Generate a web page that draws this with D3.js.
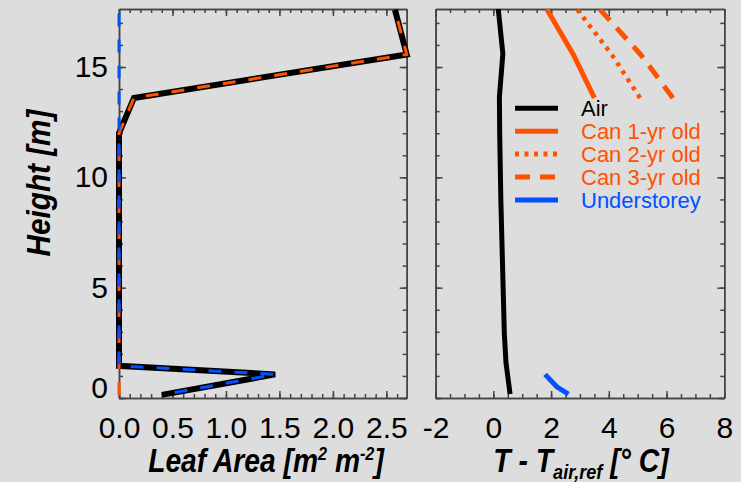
<!DOCTYPE html>
<meta charset="utf-8">
<head>
  <title>Leaf area and temperature profiles</title>
  <script src="https://cdn.jsdelivr.net/npm/d3@7"></script>
  <style>
    body {
      margin: 0;
      background: #dddddd;
    }
    svg {
      display: block;
    }
    .axis path, .axis line {
      stroke: #444;
      stroke-width: 1.5;
    }
    .axis text {
      font-family: "Liberation Sans", Arial, sans-serif;
      font-size: 30px;
      fill: #000;
    }
    .title {
      font-family: "Liberation Sans", Arial, sans-serif;
      font-weight: bold;
      font-style: italic;
      font-size: 33px;
      fill: #000;
    }
    .legend text {
      font-family: "Liberation Sans", Arial, sans-serif;
      font-size: 22px;
    }
  </style>
</head>

<body>
  <script>
    // Leaf area profile (left panel)
    var laHeight = [0.14, 1.07, 1.46, 12.0, 13.6, 15.57, 17.6];
    var laTotal  = [0.40, 1.46, 0, 0, 0.14, 2.69, 2.58];
    var laCanopy = [0, 0, 0, 0, 0.14, 2.69, 2.58];
    var laUnder  = [0.40, 1.46, 0, 0, 0, 0, 0];

    // Temperature difference profiles (right panel)
    var airHeight = [0.18, 1.57, 2.93, 5.95, 8.97, 12.0, 13.65, 15.6, 17.63];
    var airT      = [0.58, 0.44, 0.38, 0.32, 0.26, 0.22, 0.21, 0.33, 0.17];
    var canHeight = [13.6, 15.57, 17.63];
    var can1T     = [3.50, 2.77, 1.85];
    var can2T     = [5.08, 4.10, 2.89];
    var can3T     = [6.22, 5.10, 3.68];
    var underHeight = [0.18, 0.51, 1.07];
    var underT      = [2.60, 2.20, 1.79];

    // Ticks and labels
    var heightTicks = [0, 5, 10, 15];
    var heightMinor = d3.range(0, 18, 1);
    var leafTicks = [0, 0.5, 1, 1.5, 2, 2.5];
    var leafTickLabels = ["0.0", "0.5", "1.0", "1.5", "2.0", "2.5"];
    var leafMinor = d3.range(0, 2.65, 0.1);
    var tempTicks = [-2, 0, 2, 4, 6, 8];
    var tempTickLabels = ["-2", "0", "2", "4", "6", "8"];
    var tempMinor = d3.range(-2, 8.01, 0.5);

    var legendNames = ["Air", "Can 1-yr old", "Can 2-yr old", "Can 3-yr old", "Understorey"];

    var orange = "#ff5200";
    var blue = "#0052ff";

    var width = 741;
    var height = 482;
    var plotTop = 9;
    var plotBottom = 398;

    var svg = d3.select("body").append("svg")
      .attr("width", width)
      .attr("height", height);

    var y = d3.scaleLinear().domain([0, 17.63]).range([plotBottom, plotTop]);
    var xLeaf = d3.scaleLinear().domain([0, 2.69]).range([119, 406.7]);
    var xTemp = d3.scaleLinear().domain([-2, 8]).range([435.6, 724.3]);

    // clip only top and bottom, lines may sit on the side axes
    svg.append("clipPath").attr("id", "clipY")
      .append("rect")
      .attr("x", 0).attr("y", plotTop)
      .attr("width", width).attr("height", plotBottom - plotTop);

    // IDL style box: ticks inward on all four sides
    function drawBox(x, major, minor, fmt) {
      var g = svg.append("g");
      var x0 = x.range()[0], x1 = x.range()[1];

      g.append("g").attr("class", "axis").attr("transform", "translate(0," + plotBottom + ")")
        .call(d3.axisBottom(x).tickValues(minor).tickSize(-4).tickSizeOuter(0).tickFormat(""));
      g.append("g").attr("class", "axis x-labels").attr("transform", "translate(0," + plotBottom + ")")
        .call(d3.axisBottom(x).tickValues(major).tickSize(-7).tickSizeOuter(0).tickPadding(19).tickFormat(fmt));

      g.append("g").attr("class", "axis").attr("transform", "translate(0," + plotTop + ")")
        .call(d3.axisTop(x).tickValues(minor).tickSize(-4).tickSizeOuter(0).tickFormat(""));
      g.append("g").attr("class", "axis").attr("transform", "translate(0," + plotTop + ")")
        .call(d3.axisTop(x).tickValues(major).tickSize(-7).tickSizeOuter(0).tickFormat(""));

      g.append("g").attr("class", "axis").attr("transform", "translate(" + x0 + ",0)")
        .call(d3.axisLeft(y).tickValues(heightMinor).tickSize(-4).tickSizeOuter(0).tickFormat(""));
      g.append("g").attr("class", "axis").attr("transform", "translate(" + x1 + ",0)")
        .call(d3.axisRight(y).tickValues(heightMinor).tickSize(-4).tickSizeOuter(0).tickFormat(""));
      g.append("g").attr("class", "axis").attr("transform", "translate(" + x1 + ",0)")
        .call(d3.axisRight(y).tickValues(heightTicks).tickSize(-7).tickSizeOuter(0).tickFormat(""));

      return g;
    }

    var leftBox = drawBox(xLeaf, leafTicks, leafMinor, function(d, i) { return leafTickLabels[i]; });
    leftBox.append("g").attr("class", "axis y-labels").attr("transform", "translate(" + xLeaf.range()[0] + ",0)")
      .call(d3.axisLeft(y).tickValues(heightTicks).tickSize(-7).tickSizeOuter(0).tickPadding(11));
    // the 0 label sits a bit higher in the original
    leftBox.selectAll(".y-labels text")
      .filter(function(d) { return d === 0; })
      .attr("dy", "-0.03em");

    var rightBox = drawBox(xTemp, tempTicks, tempMinor, function(d, i) { return tempTickLabels[i]; });
    rightBox.append("g").attr("class", "axis").attr("transform", "translate(" + xTemp.range()[0] + ",0)")
      .call(d3.axisLeft(y).tickValues(heightTicks).tickSize(-7).tickSizeOuter(0).tickFormat(""));

    // Left panel lines
    var leafLine = d3.line()
      .x(function(d) { return xLeaf(d[0]); })
      .y(function(d) { return y(d[1]); });

    var leafG = svg.append("g").attr("clip-path", "url(#clipY)");
    leafG.append("path")
      .datum(d3.zip(laTotal, laHeight))
      .attr("d", leafLine)
      .attr("fill", "none")
      .attr("stroke", "#000")
      .attr("stroke-width", 6)
      .attr("stroke-linejoin", "miter");
    leafG.append("path")
      .datum(d3.zip(laCanopy, laHeight))
      .attr("d", leafLine)
      .attr("fill", "none")
      .attr("stroke", orange)
      .attr("stroke-width", 3)
      .attr("stroke-dasharray", "13,13");
    leafG.append("path")
      .datum(d3.zip(laUnder, laHeight))
      .attr("d", leafLine)
      .attr("fill", "none")
      .attr("stroke", blue)
      .attr("stroke-width", 3)
      .attr("stroke-dasharray", "13,13")
      .attr("stroke-dashoffset", 13);

    // Right panel lines
    var tempLine = d3.line()
      .x(function(d) { return xTemp(d[0]); })
      .y(function(d) { return y(d[1]); });

    var tempG = svg.append("g").attr("clip-path", "url(#clipY)");
    var series = [
      {t: airT, h: airHeight, color: "#000", dash: null, w: 5},
      {t: can1T, h: canHeight, color: orange, dash: null, w: 5},
      {t: can2T, h: canHeight, color: orange, dash: "4,5.5", w: 4.5},
      {t: can3T, h: canHeight, color: orange, dash: "15,10", w: 5},
      {t: underT, h: underHeight, color: blue, dash: null, w: 5}
    ];
    series.forEach(function(s) {
      tempG.append("path")
        .datum(d3.zip(s.t, s.h))
        .attr("d", tempLine)
        .attr("fill", "none")
        .attr("stroke", s.color)
        .attr("stroke-width", s.w)
        .attr("stroke-dasharray", s.dash);
    });

    // Legend
    var legend = svg.append("g").attr("class", "legend")
      .attr("transform", "translate(515,108.3)");
    legendNames.forEach(function(name, i) {
      var s = series[i];
      legend.append("line")
        .attr("x1", 0).attr("x2", 43)
        .attr("y1", i * 22.9).attr("y2", i * 22.9)
        .attr("stroke", s.color)
        .attr("stroke-width", 5)
        .attr("stroke-dasharray", s.dash);
      legend.append("text")
        .attr("x", 66)
        .attr("y", i * 22.9)
        .attr("dy", "0.35em")
        .style("fill", s.color)
        .text(name);
    });

    // Axis titles, squeezed horizontally like the narrow IDL font
    var t1 = svg.append("text").attr("class", "title")
      .attr("transform", "translate(266,472) scale(0.855,1)")
      .attr("text-anchor", "middle");
    t1.append("tspan").text("Leaf Area [m");
    t1.append("tspan").attr("dy", -12).style("font-size", "19px").text("2");
    t1.append("tspan").attr("dy", 12).text(" m");
    t1.append("tspan").attr("dy", -12).style("font-size", "19px").text("-2");
    t1.append("tspan").attr("dy", 12).text("]");

    var t2 = svg.append("text").attr("class", "title")
      .attr("transform", "translate(581,472) scale(0.86,1)")
      .attr("text-anchor", "middle");
    t2.append("tspan").text("T - T");
    t2.append("tspan").attr("dy", 7).style("font-size", "21px").text("air,ref");
    t2.append("tspan").attr("dy", -7).text(" [°");
    t2.append("tspan").text(" C]");

    svg.append("text").attr("class", "title")
      .attr("transform", "translate(50,183) rotate(-90) scale(0.9,1)")
      .attr("text-anchor", "middle")
      .text("Height [m]");
  </script>
</body>
</html>
